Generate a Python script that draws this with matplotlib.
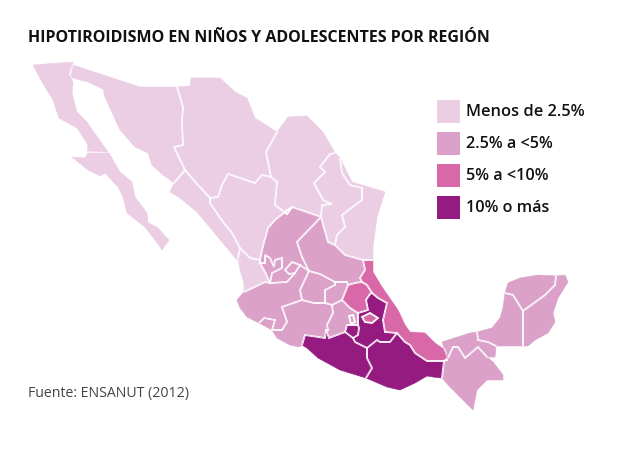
"""Hipotiroidismo en ninos y adolescentes por region, mapa de Mexico."""
import matplotlib
matplotlib.use("Agg")
import matplotlib.pyplot as plt
from matplotlib.patches import Polygon, Rectangle
from matplotlib.path import Path

# Colores por categoria
TIER_COLORS = ["#EBCDE4", "#DBA1C9", "#D868A8", "#951B81"]
TIER_LABELS = ["Menos de 2.5%", "2.5% a <5%", "5% a <10%", "10% o más"]
TITLE = "HIPOTIROIDISMO EN NIÑOS Y ADOLESCENTES POR REGIÓN"
SOURCE = "Fuente: ENSANUT (2012)"

# Contornos (x, y en pixeles)
BAJA_CALIFORNIA = [(33, 65), (73, 62), (70, 75), (73, 83), (72, 93), (77, 112), (87, 122), (98, 138),
                   (108, 152), (87, 151), (88, 145), (77, 128), (59, 118), (53, 100), (42, 82)]
BAJA_SUR = [(109, 153), (120, 172), (132, 182), (135, 197), (147, 213), (148, 223), (157, 227), (169, 240),
            (162, 250), (155, 240), (145, 227), (127, 213), (123, 197), (118, 187), (105, 173), (100, 176),
            (88, 170), (72, 157), (85, 158), (88, 153)]
SONORA = [(73, 65), (140, 87), (177, 87), (183, 107), (182, 122), (183, 145), (174, 147), (185, 170),
          (174, 183), (163, 175), (152, 165), (148, 153), (135, 147), (120, 130), (105, 97), (103, 89),
          (88, 82), (73, 78), (70, 74)]
CHIHUAHUA = [(177, 87), (190, 86), (191, 78), (220, 78), (235, 92), (247, 98), (255, 118), (277, 132),
             (266, 152), (271, 177), (262, 175), (255, 183), (228, 174), (222, 185), (218, 197), (210, 198),
             (198, 185), (185, 170), (174, 147), (183, 145), (182, 122), (183, 107)]
COAHUILA = [(277, 132), (288, 117), (307, 116), (323, 132), (335, 153), (330, 154), (320, 167), (325, 172),
            (314, 183), (323, 200), (332, 204), (322, 205), (321, 217), (307, 212), (292, 207), (287, 214),
            (275, 205), (277, 182), (271, 177), (266, 152)]
NUEVO_LEON = [(335, 153), (340, 158), (342, 173), (350, 185), (362, 188), (362, 200), (342, 215), (345, 227),
              (337, 235), (335, 245), (328, 242), (321, 217), (322, 205), (332, 204), (323, 200), (314, 183),
              (325, 172), (320, 167), (330, 154)]
TAMAULIPAS = [(340, 158), (352, 182), (382, 191), (385, 192), (377, 217), (373, 247), (373, 260), (363, 260),
              (345, 255), (335, 245), (337, 235), (345, 227), (342, 215), (362, 200), (362, 188), (350, 185),
              (342, 173)]
DURANGO = [(210, 198), (218, 197), (222, 185), (228, 174), (255, 183), (262, 175), (271, 177), (277, 182),
           (275, 205), (287, 214), (292, 207), (285, 212), (275, 220), (268, 228), (262, 250), (260, 260),
           (250, 258), (240, 248), (232, 233), (223, 222), (210, 203)]
SINALOA = [(174, 183), (185, 170), (198, 185), (210, 198), (210, 203), (223, 222), (232, 233), (240, 248),
           (238, 258), (237, 260), (197, 212), (180, 198), (170, 192)]
NAYARIT = [(238, 258), (240, 248), (250, 258), (260, 260), (260, 263), (265, 272), (270, 283), (265, 282),
           (244, 292), (244, 283), (240, 270)]
ZACATECAS = [(262, 250), (268, 228), (275, 220), (285, 212), (292, 207), (307, 212), (321, 217), (297, 242),
             (302, 257), (309, 271), (300, 265), (292, 262), (285, 270), (289, 274), (295, 273), (287, 282),
             (270, 283), (272, 273), (282, 268), (282, 258), (275, 260), (274, 267), (270, 258), (265, 255),
             (265, 263), (260, 263), (260, 260)]
JALISCO_NORTE = [(260, 263), (265, 263), (265, 255), (270, 258), (274, 267), (275, 260), (282, 258),
                 (282, 268), (272, 273), (270, 283), (265, 272)]
AGUASCALIENTES = [(285, 270), (292, 262), (300, 265), (295, 273), (289, 274)]
SAN_LUIS = [(321, 217), (328, 242), (335, 245), (345, 255), (363, 260), (365, 270), (360, 278), (362, 282),
            (355, 283), (348, 285), (347, 282), (335, 282), (320, 274), (309, 271), (302, 257), (297, 242)]
JALISCO = [(237, 300), (244, 292), (265, 282), (270, 283), (287, 282), (295, 273), (300, 265), (309, 271),
           (300, 290), (302, 300), (282, 307), (287, 322), (282, 330), (272, 330), (275, 320), (264, 318),
           (259, 323), (247, 317), (240, 308)]
COLIMA = [(259, 323), (264, 318), (275, 320), (272, 330)]
GUANAJUATO = [(309, 271), (320, 274), (335, 282), (335, 285), (325, 290), (325, 303), (314, 303), (302, 300),
              (300, 290)]
QUERETARO = [(335, 282), (347, 282), (348, 285), (342, 300), (332, 305), (325, 303), (325, 290), (335, 285)]
MICHOACAN = [(282, 307), (302, 300), (314, 303), (325, 303), (332, 305), (333, 313), (327, 325), (328, 330),
             (326, 330), (325, 338), (305, 335), (302, 345), (299, 347), (290, 345), (277, 338), (272, 330),
             (282, 330), (287, 322)]
EDO_MEXICO = [(332, 305), (342, 300), (350, 308), (358, 313), (358, 325), (347, 325), (345, 332), (329, 338),
              (326, 330), (328, 330), (327, 325), (333, 313)]
CDMX = [(349, 316), (353, 315), (355, 322), (351, 324)]
HIDALGO = [(342, 300), (348, 285), (355, 283), (362, 282), (367, 285), (372, 293), (370, 294), (366, 300),
           (368, 310), (358, 313), (350, 308)]
PUEBLA = [(372, 293), (378, 298), (387, 303), (383, 320), (385, 332), (397, 333), (390, 342), (380, 342),
          (377, 340), (367, 348), (355, 342), (353, 338), (358, 335), (359, 328), (358, 325), (358, 313),
          (368, 310), (366, 300), (370, 294)]
TLAXCALA = [(362, 317), (370, 313), (378, 318), (372, 323), (365, 322)]
MORELOS = [(347, 325), (358, 325), (359, 328), (358, 335), (353, 338), (345, 332)]
GUERRERO = [(302, 345), (305, 335), (325, 338), (326, 330), (329, 338), (345, 332), (353, 338), (355, 342),
            (367, 348), (367, 358), (372, 368), (366, 378), (340, 370), (318, 358), (307, 348)]
OAXACA = [(367, 348), (377, 340), (380, 342), (390, 342), (397, 333), (405, 342), (410, 345), (415, 353),
          (427, 361), (444, 361), (442, 378), (433, 377), (427, 376), (415, 383), (400, 390), (387, 387),
          (366, 378), (372, 368), (367, 358)]
VERACRUZ = [(363, 260), (373, 260), (373, 272), (382, 287), (398, 310), (405, 325), (410, 332), (425, 333),
            (435, 343), (445, 350), (447, 360), (444, 361), (427, 361), (415, 353), (410, 345), (405, 342),
            (397, 333), (385, 332), (383, 320), (387, 303), (378, 298), (372, 293), (367, 285), (362, 282),
            (360, 278), (365, 270)]
TABASCO = [(442, 342), (470, 333), (477, 332), (478, 340), (488, 342), (496, 346), (495, 357), (487, 357),
           (478, 347), (465, 358), (458, 347), (453, 347), (448, 358)]
CHIAPAS = [(444, 361), (448, 358), (453, 347), (458, 347), (465, 358), (478, 347), (487, 357), (493, 362),
           (503, 375), (503, 380), (487, 380), (477, 390), (473, 410), (450, 387), (442, 378)]
CAMPECHE = [(505, 293), (513, 295), (523, 311), (523, 346), (496, 346), (488, 342), (478, 340), (477, 332),
            (492, 328), (500, 318), (503, 308)]
YUCATAN = [(505, 293), (508, 283), (520, 278), (538, 275), (556, 276), (555, 285), (545, 295), (523, 311),
           (513, 295)]
QUINTANA_ROO = [(556, 276), (565, 275), (568, 282), (558, 298), (553, 313), (555, 322), (548, 333), (535, 340),
                (528, 346), (523, 346), (523, 311), (545, 295), (555, 285)]

TIER_0 = [BAJA_CALIFORNIA, BAJA_SUR, SONORA, CHIHUAHUA, COAHUILA, NUEVO_LEON, TAMAULIPAS, DURANGO, SINALOA, NAYARIT]
TIER_1 = [ZACATECAS, JALISCO_NORTE, AGUASCALIENTES, SAN_LUIS, JALISCO, COLIMA, GUANAJUATO, QUERETARO, MICHOACAN,
          EDO_MEXICO, CDMX, TABASCO, CHIAPAS, CAMPECHE, YUCATAN, QUINTANA_ROO]
TIER_2 = [HIDALGO, VERACRUZ, TLAXCALA]
TIER_3 = [PUEBLA, MORELOS, GUERRERO, OAXACA]

plt.rcParams["font.family"] = "Open Sans"

fig = plt.figure(figsize=(6.18, 4.59), dpi=100)
ax = fig.add_axes([0, 0, 1, 1])
ax.set_xlim(0, 618)
ax.set_ylim(459, 0)
ax.axis("off")

# Relleno un poco dilatado, asi la costa no queda erosionada
layers = [(0, TIER_0), (1, TIER_1), (3, TIER_3), (2, TIER_2)]
all_shapes = [s for _, shapes in layers for s in shapes]
for tier, shapes in layers:
    for shape in shapes:
        ax.add_patch(Polygon(shape, closed=True, facecolor=TIER_COLORS[tier],
                             edgecolor=TIER_COLORS[tier], lw=0.4))

# Fronteras blancas, solo donde caen sobre otro estado (no en la costa)
for shape in all_shapes:
    others = Path.make_compound_path(*[Polygon(s, closed=True).get_path()
                                       for s in all_shapes if s is not shape])
    border = Polygon(shape, closed=True, fill=False, edgecolor="white", lw=1.3, zorder=3)
    ax.add_patch(border)
    border.set_clip_path(others, ax.transData)

# Leyenda
for i, (color, label) in enumerate(zip(TIER_COLORS, TIER_LABELS)):
    y = 100 + i * 32
    ax.add_patch(Rectangle((437, y), 23, 23, facecolor=color, edgecolor="none"))
    ax.text(466, y + 12, label, ha="left", va="center", fontsize=11.8 if i == 0 else 11.6,
            color="#111111", fontweight="semibold")

ax.text(28, 38.5, TITLE, ha="left", va="center", fontsize=11.5, color="#111111", fontweight="bold")
ax.text(28, 393, SOURCE, ha="left", va="center", fontsize=10.2, color="#444444")

fig.savefig("out.png", dpi=100, facecolor="white")
